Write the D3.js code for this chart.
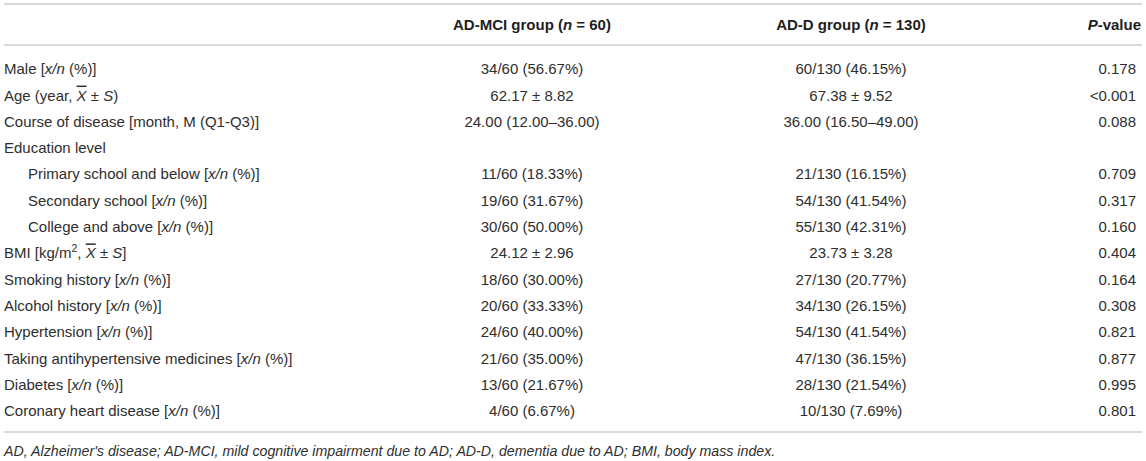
<!DOCTYPE html>
<html>
<head>
<meta charset="utf-8">
<script src="https://cdn.jsdelivr.net/npm/d3@7"></script>
<style>
  html, body { margin: 0; padding: 0; background: #fff; }
  svg { display: block; font-family: "Liberation Sans", Arial, sans-serif; }
</style>
</head>
<body>
<svg id="chart" width="1146" height="461"></svg>
<script>
// markup: <i>..</i> italic, <o>..</o> overbar, <sup>..</sup> superscript
const headers = ["", "AD-MCI group (<i>n</i> = 60)", "AD-D group (<i>n</i> = 130)", "<i>P</i>-value"];

const rowLabels = [
    "Male [<i>x/n</i> (%)]",
    "Age (year, <o><i>X</i></o> \u00b1 <i>S</i>)",
    "Course of disease [month, M (Q1-Q3)]",
    "Education level",
    "Primary school and below [<i>x/n</i> (%)]",
    "Secondary school [<i>x/n</i> (%)]",
    "College and above [<i>x/n</i> (%)]",
    "BMI [kg/m<sup>2</sup>, <o><i>X</i></o> \u00b1 <i>S</i>]",
    "Smoking history [<i>x/n</i> (%)]",
    "Alcohol history [<i>x/n</i> (%)]",
    "Hypertension [<i>x/n</i> (%)]",
    "Taking antihypertensive medicines [<i>x/n</i> (%)]",
    "Diabetes [<i>x/n</i> (%)]",
    "Coronary heart disease [<i>x/n</i> (%)]"
];

// rows nested under "Education level"
const subRows = [4, 5, 6];

const mciValues = [
    "34/60 (56.67%)", "62.17 \u00b1 8.82", "24.00 (12.00\u201336.00)", "",
    "11/60 (18.33%)", "19/60 (31.67%)", "30/60 (50.00%)", "24.12 \u00b1 2.96",
    "18/60 (30.00%)", "20/60 (33.33%)", "24/60 (40.00%)", "21/60 (35.00%)",
    "13/60 (21.67%)", "4/60 (6.67%)"
];

const adValues = [
    "60/130 (46.15%)", "67.38 \u00b1 9.52", "36.00 (16.50\u201349.00)", "",
    "21/130 (16.15%)", "54/130 (41.54%)", "55/130 (42.31%)", "23.73 \u00b1 3.28",
    "27/130 (20.77%)", "34/130 (26.15%)", "54/130 (41.54%)", "47/130 (36.15%)",
    "28/130 (21.54%)", "10/130 (7.69%)"
];

const pValues = [
    "0.178", "<0.001", "0.088", "",
    "0.709", "0.317", "0.160", "0.404",
    "0.164", "0.308", "0.821", "0.877",
    "0.995", "0.801"
];

const footnote = "<i>AD, Alzheimer's disease; AD-MCI, mild cognitive impairment due to AD; AD-D, dementia due to AD; BMI, body mass index.</i>";

const left = 4, right = 1142;
const textColor = "#2e2e2e";
const ruleColor = "#b4b4b4";
const fontSize = 15;

const svg = d3.select("#chart");

const y = d3.scalePoint()
    .domain(d3.range(rowLabels.length))
    .range([69, 411]);

// column anchors: label (start), two centred groups, p-value (end)
const columns = [
    {x: left, anchor: "start"},
    {x: 532, anchor: "middle"},
    {x: 851, anchor: "middle"},
    {x: 1136, anchor: "end"}
];

function parse(markup) {
    let parts = [];
    let re = /<(i|o|sup)>(.*?)<\/\1>/g;
    let last = 0, m;
    // nested <o><i>..</i></o> handled by recursion
    while ((m = re.exec(markup)) !== null) {
        if (m.index > last) parts.push({text: markup.slice(last, m.index), style: []});
        parse(m[2]).forEach(p => parts.push({text: p.text, style: p.style.concat([m[1]])}));
        last = re.lastIndex;
    }
    if (last < markup.length) parts.push({text: markup.slice(last), style: []});
    return parts;
}

function richText(sel, markup, size) {
    parse(markup).forEach(p => {
        let t = sel.append("tspan").text(p.text);
        if (p.style.includes("i")) t.attr("font-style", "italic");
        if (p.style.includes("o")) t.attr("text-decoration", "overline");
        if (p.style.includes("sup")) t.attr("baseline-shift", "super").attr("font-size", (size || fontSize) * 0.7);
    });
    return sel;
}

// rules
const rules = [4, 45, 432];
svg.append("g").selectAll("line")
    .data(rules)
    .join("line")
    .attr("x1", left)
    .attr("x2", right)
    .attr("y1", d => d)
    .attr("y2", d => d)
    .attr("stroke", ruleColor)
    .attr("stroke-width", 1.2);

// header
const headerG = svg.append("g")
    .attr("font-weight", "bold")
    .attr("font-size", fontSize)
    .attr("fill", "#1e1e1e");

headers.forEach((h, i) => {
    if (!h) return;
    let t = headerG.append("text")
        .attr("x", i === 3 ? right - 1 : columns[i].x)
        .attr("y", 25)
        .attr("dy", "0.35em")
        .attr("text-anchor", columns[i].anchor);
    richText(t, h);
});

// body rows
const body = svg.append("g")
    .attr("font-size", fontSize)
    .attr("fill", textColor);

const rows = body.selectAll("g.row")
    .data(d3.range(rowLabels.length))
    .join("g")
    .attr("class", "row")
    .attr("transform", d => "translate(0," + y(d) + ")");

rows.each(function (i) {
    let g = d3.select(this);
    let lbl = g.append("text")
        .attr("x", subRows.includes(i) ? left + 24 : left)
        .attr("dy", "0.35em")
        .attr("text-anchor", "start");
    richText(lbl, rowLabels[i]);

    [mciValues, adValues, pValues].forEach((col, c) => {
        g.append("text")
            .attr("x", columns[c + 1].x)
            .attr("dy", "0.35em")
            .attr("text-anchor", columns[c + 1].anchor)
            .text(col[i]);
    });
});

// footnote
const fn = svg.append("text")
    .attr("x", left)
    .attr("y", 451)
    .attr("dy", "0.35em")
    .attr("font-size", 14.2)
    .attr("fill", textColor);
richText(fn, footnote, 14.2);
</script>
</body>
</html>
